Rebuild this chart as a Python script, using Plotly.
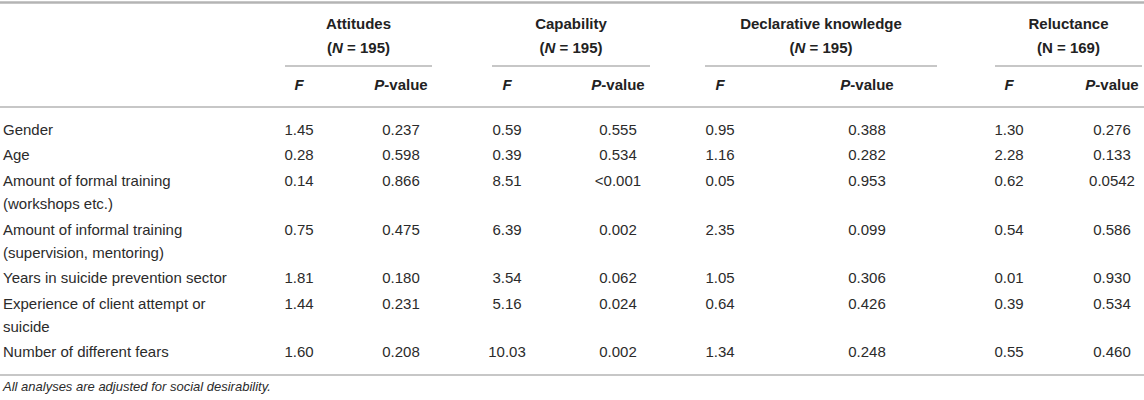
import plotly.graph_objects as go

# table content
row_labels = [
    ["Gender"],
    ["Age"],
    ["Amount of formal training", "(workshops etc.)"],
    ["Amount of informal training", "(supervision, mentoring)"],
    ["Years in suicide prevention sector"],
    ["Experience of client attempt or", "suicide"],
    ["Number of different fears"],
]
groups = ["Attitudes", "Capability", "Declarative knowledge", "Reluctance"]
group_n = ["(<i>N</i> = 195)", "(<i>N</i> = 195)", "(<i>N</i> = 195)", "(N = 169)"]
sub_headers = ["<i>F</i>", "<i>P</i>-value"]

attitudes_f = [1.45, 0.28, 0.14, 0.75, 1.81, 1.44, 1.60]
attitudes_p = ["0.237", "0.598", "0.866", "0.475", "0.180", "0.231", "0.208"]
capability_f = [0.59, 0.39, 8.51, 6.39, 3.54, 5.16, 10.03]
capability_p = ["0.555", "0.534", "&lt;0.001", "0.002", "0.062", "0.024", "0.002"]
declarative_f = [0.95, 1.16, 0.05, 2.35, 1.05, 0.64, 1.34]
declarative_p = ["0.388", "0.282", "0.953", "0.099", "0.306", "0.426", "0.248"]
reluctance_f = [1.30, 2.28, 0.62, 0.54, 0.01, 0.39, 0.55]
reluctance_p = ["0.276", "0.133", "0.0542", "0.586", "0.930", "0.534", "0.460"]

footnote = "All analyses are adjusted for social desirability."

# layout (pixel space, y grows downward)
W, H = 1144, 400
col_x = [299, 401, 507, 618, 720, 867, 1009, 1112]
group_span = [(285, 432), (492, 650), (705, 937), (995, 1142)]
label_x = 3
y_group, y_n, y_rule, y_sub, y_head_line = 25, 49, 66, 86, 107
y_first, line_h, row_pad = 131, 23, 2.6
y_bottom, y_note = 375, 388

FONT = "Liberation Sans, Arial, Helvetica, sans-serif"
TXT = "#2b2b2b"
RULE = "#b4b4b4"

columns = [
    [f"{v:.2f}" for v in attitudes_f], attitudes_p,
    [f"{v:.2f}" for v in capability_f], capability_p,
    [f"{v:.2f}" for v in declarative_f], declarative_p,
    [f"{v:.2f}" for v in reluctance_f], reluctance_p,
]

# row positions
row_y = []
y = y_first
for lines in row_labels:
    row_y.append(y)
    y += line_h * len(lines) + row_pad

fig = go.Figure()

# row labels
lx, ly, lt = [], [], []
for yy, lines in zip(row_y, row_labels):
    for i, s in enumerate(lines):
        lx.append(label_x)
        ly.append(yy + i * line_h)
        lt.append(s)
fig.add_trace(go.Scatter(x=lx, y=ly, text=lt, mode="text", textposition="middle right",
                         textfont=dict(family=FONT, size=15, color=TXT), hoverinfo="skip"))

# values
vx, vy, vt = [], [], []
for cx, col in zip(col_x, columns):
    for yy, v in zip(row_y, col):
        vx.append(cx)
        vy.append(yy)
        vt.append(v)
fig.add_trace(go.Scatter(x=vx, y=vy, text=vt, mode="text", textposition="middle center",
                         textfont=dict(family=FONT, size=15, color=TXT), hoverinfo="skip"))

# headers
hx, hy, ht = [], [], []
for (a, b), g, n in zip(group_span, groups, group_n):
    c = (a + b) / 2
    hx += [c, c]
    hy += [y_group, y_n]
    ht += [f"<b>{g}</b>", f"<b>{n}</b>"]
for i, cx in enumerate(col_x):
    hx.append(cx)
    hy.append(y_sub)
    ht.append(f"<b>{sub_headers[i % 2]}</b>")
fig.add_trace(go.Scatter(x=hx, y=hy, text=ht, mode="text", textposition="middle center",
                         textfont=dict(family=FONT, size=15, color="#222222"), hoverinfo="skip"))

fig.add_trace(go.Scatter(x=[label_x], y=[y_note], text=[f"<i>{footnote}</i>"], mode="text",
                         textposition="middle right",
                         textfont=dict(family=FONT, size=13, color=TXT), hoverinfo="skip"))

# rules
shapes = [
    dict(type="line", x0=0, x1=W, y0=2.5, y1=2.5, line=dict(color=RULE, width=2.5)),
    dict(type="line", x0=0, x1=W, y0=y_head_line, y1=y_head_line, line=dict(color=RULE, width=1.5)),
    dict(type="line", x0=0, x1=W, y0=y_bottom, y1=y_bottom, line=dict(color=RULE, width=1.5)),
]
for a, b in group_span:
    shapes.append(dict(type="line", x0=a, x1=b, y0=y_rule, y1=y_rule,
                       line=dict(color=RULE, width=1.5)))
for s in shapes:
    s.update(xref="x", yref="y", layer="below")

fig.update_layout(
    width=W, height=H,
    margin=dict(l=0, r=0, t=0, b=0),
    paper_bgcolor="white", plot_bgcolor="white",
    showlegend=False,
    shapes=shapes,
    xaxis=dict(range=[0, W], visible=False, fixedrange=True),
    yaxis=dict(range=[H, 0], visible=False, fixedrange=True),
)

# the page body has a default 8px margin; drop it so the table sits at the window edge
fig.write_html("out.html", config={"displayModeBar": False},
               post_script="document.body.style.margin='0';document.body.style.overflow='hidden';")
